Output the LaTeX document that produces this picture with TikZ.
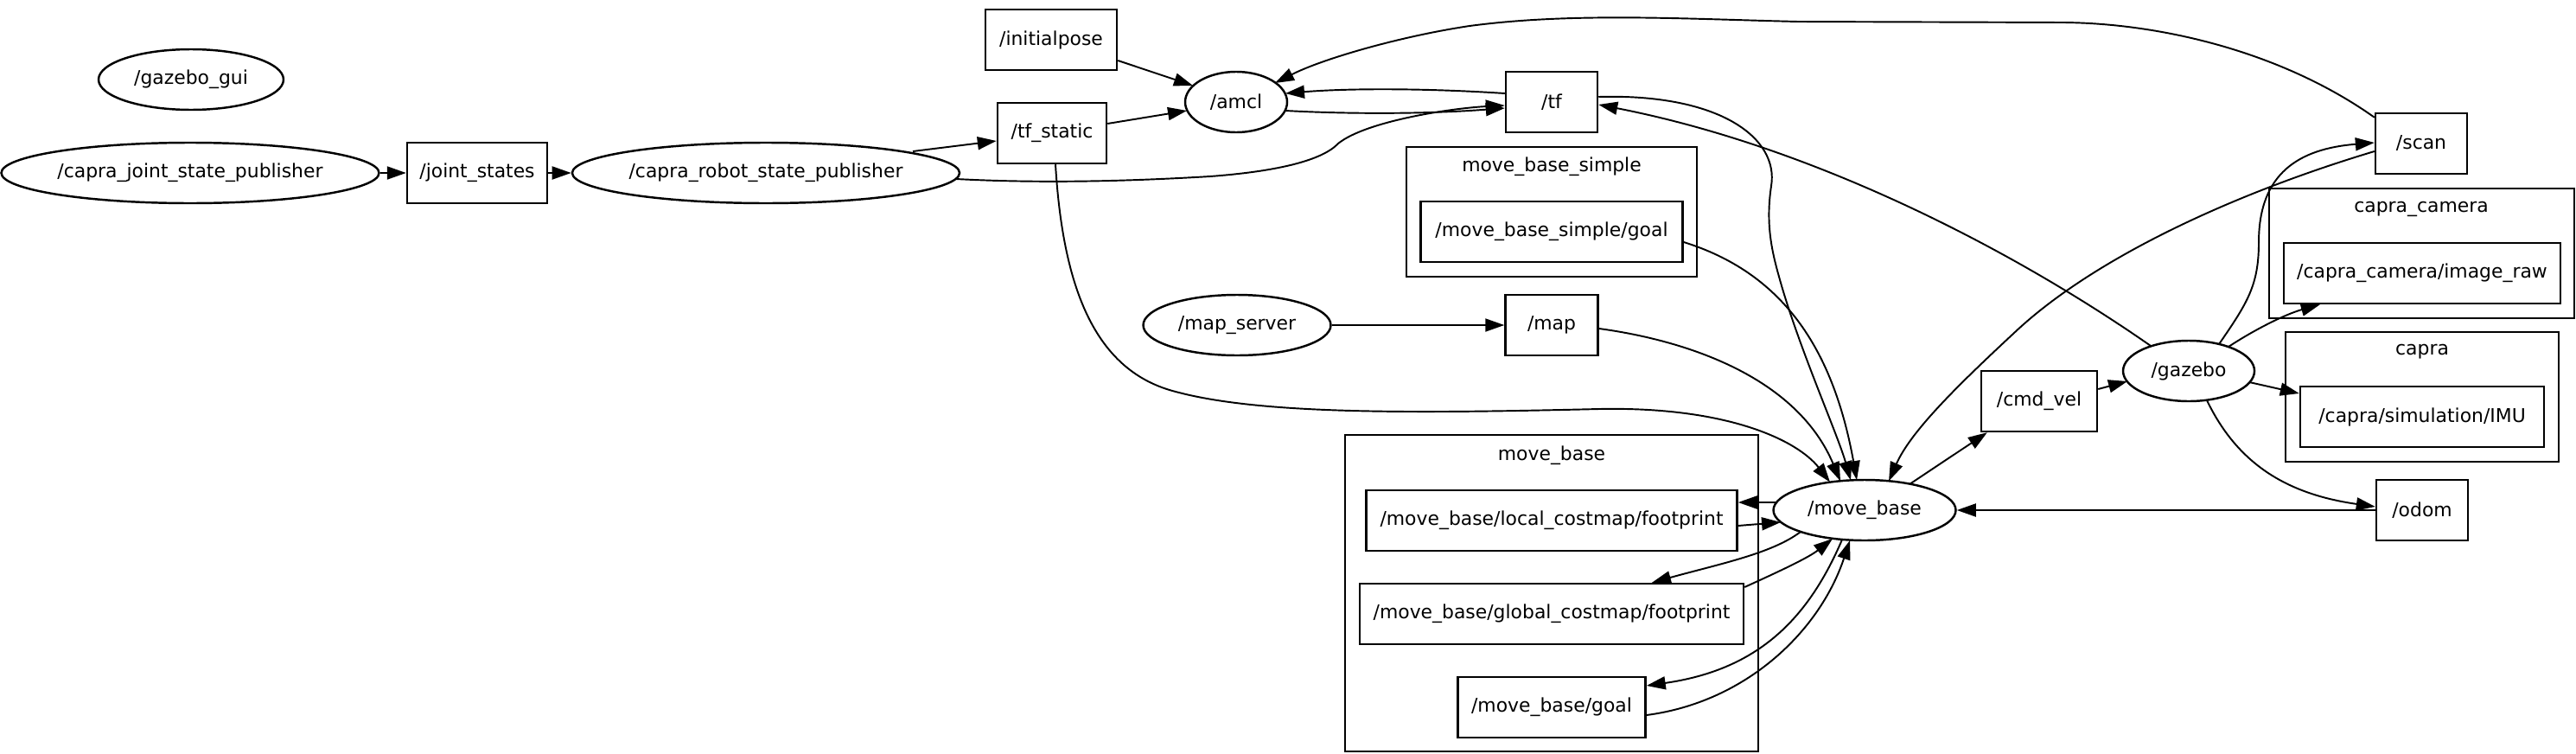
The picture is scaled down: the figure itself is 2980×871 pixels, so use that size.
\documentclass[tikz,border=0pt]{standalone}
\usepackage{fontspec}
\setmainfont{DejaVu Sans}
\usetikzlibrary{arrows.meta,calc,shapes.geometric}
\begin{document}
\begin{tikzpicture}[x=0.1mm,y=-0.1mm,
  every node/.style={font=\fontsize{6.23pt}{7.5pt}\selectfont, inner sep=0pt},
  topic/.style={draw, rectangle, line width=0.7pt, minimum height=7mm},
  nodeel/.style={draw, ellipse, line width=0.7pt, minimum height=7mm},
  cluster/.style={draw, line width=0.7pt},
  edge/.style={line width=0.55pt, -{Triangle[length=2.2mm,width=1.5mm]}}]
\useasboundingbox (0,0) rectangle (2980,871);

% clusters
\draw[cluster] (1627,170) rectangle (1963,320);
\node (mbslabel) at (1795,193) {move\_base\_simple};
\draw[cluster] (2625,218) rectangle (2978,368);
\node (camlabel) at (2801,242) {capra\_camera};
\draw[cluster] (2644,384) rectangle (2960,534);
\node (capralabel) at (2802,407) {capra};
\draw[cluster] (1556,503) rectangle (2034,869);
\node (mblabel) at (1795,527) {move\_base};

% nodes
\node[nodeel, minimum width=21.4mm] (gazebogui) at (221,92) {/gazebo\_gui};
\node[nodeel, minimum width=43.7mm] (cjsp) at (220,200) {/capra\_joint\_state\_publisher};
\node[topic, minimum width=16.2mm] (jointstates) at (552,200) {/joint\_states};
\node[nodeel, minimum width=44.8mm] (crsp) at (886,200) {/capra\_robot\_state\_publisher};
\node[topic, minimum width=15.2mm] (initialpose) at (1216,46) {/initialpose};
\node[topic, minimum width=12.6mm] (tfstatic) at (1217,154) {/tf\_static};
\node[nodeel, minimum width=11.8mm] (amcl) at (1430,118) {/amcl};
\node[topic, minimum width=10.6mm] (tf) at (1795,118) {/tf};
\node[topic, minimum width=30.3mm] (mbsgoal) at (1795,268) {/move\_base\_simple/goal};
\node[topic, minimum width=10.6mm] (scan) at (2801,166) {/scan};
\node[topic, minimum width=32mm] (imageraw) at (2802,316) {/capra\_camera/image\_raw};
\node[topic, minimum width=28.2mm] (imu) at (2802,482) {/capra/simulation/IMU};
\node[nodeel, minimum width=15.2mm] (gazebo) at (2532,429) {/gazebo};
\node[topic, minimum width=13.4mm] (cmdvel) at (2359,464) {/cmd\_vel};
\node[topic, minimum width=10.6mm] (odom) at (2802,590) {/odom};
\node[nodeel, minimum width=21.7mm] (mapserver) at (1431,376) {/map\_server};
\node[topic, minimum width=10.7mm] (map) at (1795,376) {/map};
\node[topic, minimum width=42.9mm] (local) at (1795,602) {/move\_base/local\_costmap/footprint};
\node[topic, minimum width=44.4mm] (global) at (1795,710) {/move\_base/global\_costmap/footprint};
\node[topic, minimum width=21.7mm] (mbgoal) at (1795,818) {/move\_base/goal};
\node[nodeel, minimum width=21.1mm] (movebase) at (2157,590) {/move\_base};

% edges
\draw[edge] (cjsp.east) -- (jointstates.west);
\draw[edge] (jointstates.east) -- (crsp.west);
\draw[edge] ($(crsp)+(170,-25)$) -- ($(tfstatic.west)+(0,9)$);
\draw[edge] ($(crsp)+(220,7)$) .. controls (1200,212) and (1300,210) .. (1400,204)
   .. controls (1480,198) and (1530,185) .. (1548,166)
   .. controls (1580,140) and (1680,125) .. ($(tf.west)+(0,4)$);
\draw[edge] ($(initialpose.east)+(0,24)$) -- ($(amcl)+(-50,-19)$);
\draw[edge] ($(tfstatic.east)+(0,-11)$) -- ($(amcl)+(-57,10)$);
\draw[edge] ($(tf.west)+(0,-10)$) .. controls (1650,102) and (1560,102) .. ($(amcl)+(57,-10)$);
\draw[edge] ($(amcl)+(57,10)$) .. controls (1560,132) and (1650,132) .. ($(tf.west)+(0,7)$);
\draw[edge] ($(scan.north west)+(0,6)$) .. controls (2640,60) and (2500,27) .. (2387,26)
   -- (2080,25) .. controls (1950,22) and (1820,14) .. (1700,30)
   .. controls (1620,42) and (1530,68) .. ($(amcl)+(45,-22)$);
\draw[edge] ($(tfstatic.south)+(4,0)$) .. controls (1230,340) and (1270,430) .. (1360,453)
   .. controls (1460,480) and (1640,478) .. (1850,473)
   .. controls (2000,470) and (2080,510) .. ($(movebase)+(-40,-32.4)$);
\draw[edge] ($(tf.east)+(0,-6)$) .. controls (1990,108) and (2058,160) .. (2049,215)
   .. controls (2043,255) and (2048,285) .. (2058,320)
   .. controls (2080,400) and (2125,500) .. ($(movebase)+(-16,-34.6)$);
\draw[edge] ($(gazebo)+(-44,-29)$) .. controls (2330,290) and (2100,170) .. ($(tf.east)+(0,3)$);
\draw[edge] ($(mbsgoal.east)+(0,12)$) .. controls (2060,315) and (2120,400) .. ($(movebase)+(-9,-34.9)$);
\draw[edge] ($(map.east)+(0,4)$) .. controls (1960,395) and (2080,440) .. ($(movebase)+(-28,-33.7)$);
\draw[edge] (mapserver.east) -- (map.west);
\draw[edge] ($(scan.west)+(0,9)$) .. controls (2580,225) and (2420,300) .. (2330,385)
   .. controls (2260,450) and (2210,500) .. ($(movebase)+(28,-33.7)$);
\draw[edge] ($(gazebo)+(35,-31)$) .. controls (2600,350) and (2613,330) .. (2613,280)
   .. controls (2613,200) and (2660,172) .. ($(scan.west)+(0,-1)$);
\draw[edge] ($(movebase)+(52,-30)$) -- ($(cmdvel.south west)+(8,0)$);
\draw[edge] ($(cmdvel.east)+(0,-14)$) -- ($(gazebo)+(-71,12)$);
\draw[edge] ($(gazebo)+(46,-28)$) .. controls (2610,380) and (2645,363) .. ($(imageraw.south west)+(43,0)$);
\draw[edge] ($(gazebo)+(70,13)$) -- ($(imu.west)+(0,-27)$);
\draw[edge] ($(gazebo)+(21,34)$) .. controls (2590,540) and (2650,572) .. ($(odom.west)+(0,-4)$);
\draw[edge] (odom.west) -- (movebase.east);
\draw[edge] ($(movebase)+(-103,-9)$) -- ($(local.east)+(0,-21)$);
\draw[edge] ($(local.east)+(0,6)$) -- ($(movebase)+(-97,14)$);
\draw[edge] ($(movebase)+(-74,25)$) .. controls (2050,640) and (1990,652) .. ($(global.north)+(116,0)$);
\draw[edge] ($(global.east)+(0,-31)$) .. controls (2060,660) and (2092,645) .. ($(movebase)+(-37,33)$);
\draw[edge] ($(movebase)+(-26,34)$) .. controls (2090,720) and (2030,775) .. ($(mbgoal.east)+(0,-25)$);
\draw[edge] ($(mbgoal.east)+(0,9)$) .. controls (2020,812) and (2105,730) .. ($(movebase)+(-17,35)$);
\end{tikzpicture}
\end{document}
